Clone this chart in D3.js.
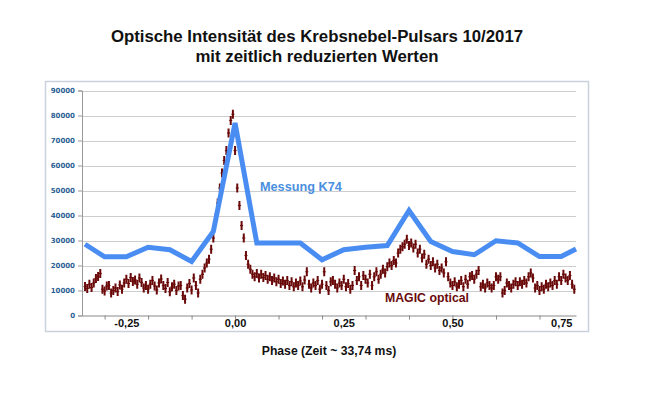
<!DOCTYPE html>
<html>
<head>
<meta charset="utf-8">
<script src="https://cdn.jsdelivr.net/npm/d3@7"></script>
<style>
  body { margin: 0; background: #fff; }
  svg { font-family: "Liberation Sans", Arial, sans-serif; }
</style>
</head>
<body>
<div id="chart"></div>
<script>
// chart titles
const titleLines = ["Optische Intensität des Krebsnebel-Pulsars 10/2017", "mit zeitlich reduzierten Werten"];
const xTitle = "Phase (Zeit ~ 33,74 ms)";

// axis ticks
const yTicks = [0, 10000, 20000, 30000, 40000, 50000, 60000, 70000, 80000, 90000];
const xMinorTicks = [-0.3, -0.2, -0.1, 0, 0.1, 0.2, 0.3, 0.4, 0.5, 0.6, 0.7];
const xLabelTicks = [-0.25, 0, 0.25, 0.5, 0.75];

// Messung K74 (blue line)
const k74Phase = [-0.345, -0.30, -0.25, -0.20, -0.15, -0.10, -0.05, 0.00, 0.05, 0.10, 0.15, 0.20, 0.25, 0.30, 0.35, 0.40, 0.45, 0.50, 0.55, 0.60, 0.65, 0.70, 0.75, 0.784];
const k74Value = [28500, 23500, 23500, 27300, 26300, 21600, 33600, 77000, 29000, 29000, 29000, 22300, 26300, 27300, 28000, 42000, 29600, 25600, 24300, 29900, 29000, 23600, 23600, 26600];

// MAGIC optical (dark red points with error bars), phase bins of 0.005 from -0.345
const magicPhaseStart = -0.345;
const magicPhaseStep = 0.005;
const magicError = 1800;
const magicValue = [
  11600, 10800, 12500, 11200, 13000, 14800, 15600, 16800, 10500, 9800,
  11800, 12000, 9000, 10000, 11000, 9600, 12200, 10500, 13000, 14500,
  12800, 15200, 13600, 14200, 12500, 15000, 13200, 11000, 12000, 10500,
  12500, 14000, 11800, 10200, 13000, 14600, 12000, 10800, 13200, 9500,
  11500, 12500, 10000, 11800, 12000, 8000, 6500, 11000, 12800, 10200,
  15000, 12000, 9000, 14500, 16500, 19000, 21000, 22500, 26500, 31000,
  39000, 45000, 51000, 57000, 62000, 66000, 73000, 78000, 80500, 66000,
  51000, 44000, 36000, 31000, 24000, 20500, 18500, 16500, 15500, 16800,
  15000, 16500, 15200, 16000, 14500, 15500, 14000, 15000, 13500, 14500,
  12800, 13800, 12500, 14000, 12000, 13500, 11500, 13000, 12000, 13800,
  11500, 14200, 17500, 12500, 11000, 13000, 12000, 14000, 10500, 12500,
  17500, 12000, 10000, 13500, 14000, 12500, 11000, 13000, 12000, 14500,
  11500, 12800, 10500, 12000, 18000, 14000, 15500, 12000, 16000, 14500,
  13000, 16500, 12000, 15500, 17500, 14500, 16500, 18500, 17000, 19500,
  21000, 20000, 22000, 21000, 25000, 26500, 27500, 28500, 30500, 28000,
  29000, 27000, 28500, 25000, 26500, 23000, 24500, 20500, 22500, 20000,
  21500, 19000, 20500, 18000, 19000, 17000, 21500, 15500, 13000, 12000,
  13500, 11500, 12500, 14000, 11500, 14500, 12500, 15500, 16000, 14500,
  16500, 18000, 11500, 12500, 11000, 13000, 12000, 11000, 12000, 15500,
  14500, 15500, 9000, 10000, 13000, 12000, 11000, 12500, 13500, 12000,
  13500, 12500, 14000, 13000, 15500, 17000, 15000, 11000, 12000, 10000,
  11500, 10500, 12500, 11500, 13000, 12000, 14000, 12500, 15500, 14000,
  16500, 15000, 14000, 16000, 12500, 10500
];

// series labels
const k74Label = "Messung K74";
const magicLabel = "MAGIC optical";

const width = 660;
const height = 396;

const svg = d3.select("#chart")
    .append("svg")
    .attr("width", width)
    .attr("height", height);

// plot area
const plot = { left: 82, right: 576, top: 90.5, bottom: 315.5 };

const x = d3.scaleLinear()
    .domain([-0.352, 0.784])
    .range([plot.left, plot.right]);

const y = d3.scaleLinear()
    .domain([0, 90000])
    .range([plot.bottom, plot.top]);

const de = d3.formatLocale({ decimal: ",", thousands: ".", grouping: [3], currency: ["", " €"], minus: "-" });

// frame around chart
svg.append("rect")
    .attr("x", 45.5)
    .attr("y", 81.5)
    .attr("width", 543)
    .attr("height", 250)
    .attr("fill", "#fff")
    .attr("stroke", "#c9d2dc")
    .attr("stroke-width", 1.5);

// title
svg.append("g")
    .selectAll("text")
    .data(titleLines)
    .enter()
    .append("text")
    .text(d => d)
    .attr("x", 317)
    .attr("y", (d, i) => 42 + i * 19.5)
    .attr("text-anchor", "middle")
    .style("font-size", "16.8px")
    .style("font-weight", "bold")
    .attr("fill", "#111");

// gridlines
svg.append("g")
    .selectAll("line")
    .data(yTicks.slice(1))
    .enter()
    .append("line")
    .attr("x1", plot.left)
    .attr("x2", plot.right)
    .attr("y1", d => Math.round(y(d)) + 0.5)
    .attr("y2", d => Math.round(y(d)) + 0.5)
    .attr("stroke", "#cdcdcd")
    .attr("stroke-width", 1);

// y axis
const yAxis = svg.append("g")
    .attr("transform", `translate(${plot.left},0)`)
    .call(d3.axisLeft(y).tickValues(yTicks).tickSize(4).tickFormat(d3.format("d")));
yAxis.select(".domain").attr("stroke", "#9a9a9a");
yAxis.selectAll(".tick line").attr("stroke", "#9a9a9a");
yAxis.selectAll("text")
    .attr("fill", "#2b5f94")
    .style("font-family", "'DejaVu Sans', Verdana, sans-serif")
    .style("font-size", "7px")
    .style("font-weight", "bold");

// x axis with minor ticks
const xAxis = svg.append("g")
    .attr("transform", `translate(0,${plot.bottom})`)
    .call(d3.axisBottom(x).tickValues(xMinorTicks).tickSize(4).tickFormat("").tickSizeOuter(0));
xAxis.select(".domain").attr("stroke", "#8a8a8a").attr("stroke-width", 1.2);
xAxis.selectAll(".tick line").attr("stroke", "#8a8a8a");

// x labels
const xLabels = svg.append("g")
    .attr("transform", `translate(0,${plot.bottom})`)
    .call(d3.axisBottom(x).tickValues(xLabelTicks).tickSize(0).tickPadding(4).tickFormat(de.format(".2f")));
xLabels.select(".domain").remove();
xLabels.selectAll("text")
    .attr("fill", "#111")
    .style("font-size", "11px")
    .style("font-weight", "bold");

// x title
svg.append("text")
    .text(xTitle)
    .attr("x", 329)
    .attr("y", 355)
    .attr("text-anchor", "middle")
    .style("font-size", "12.2px")
    .style("font-weight", "bold")
    .attr("fill", "#111");

// MAGIC optical points
const magic = magicValue.map((v, i) => ({ p: magicPhaseStart + i * magicPhaseStep, v: v }));
const magicColor = "#6a0909";

const pts = svg.append("g");
pts.selectAll("line.err")
    .data(magic)
    .enter()
    .append("line")
    .attr("class", "err")
    .attr("x1", d => x(d.p))
    .attr("x2", d => x(d.p))
    .attr("y1", d => y(d.v - magicError))
    .attr("y2", d => y(d.v + magicError))
    .attr("stroke", magicColor)
    .attr("stroke-width", 2);
pts.selectAll("line.mark")
    .data(magic)
    .enter()
    .append("line")
    .attr("class", "mark")
    .attr("x1", d => x(d.p) - 1.5)
    .attr("x2", d => x(d.p) + 1.5)
    .attr("y1", d => y(d.v))
    .attr("y2", d => y(d.v))
    .attr("stroke", magicColor)
    .attr("stroke-width", 1.2);

// K74 line
const k74 = k74Phase.map((p, i) => ({ p: p, v: k74Value[i] }));
svg.append("path")
    .datum(k74)
    .attr("d", d3.line().x(d => x(d.p)).y(d => y(d.v)))
    .attr("fill", "none")
    .attr("stroke", "#4a8df2")
    .attr("stroke-width", 5)
    .attr("stroke-linejoin", "miter");

// series labels
svg.append("text")
    .text(k74Label)
    .attr("x", 260)
    .attr("y", 191)
    .style("font-size", "12.7px")
    .style("font-weight", "bold")
    .attr("fill", "#4a8fe0");

svg.append("text")
    .text(magicLabel)
    .attr("x", 385)
    .attr("y", 302)
    .style("font-size", "12.3px")
    .style("font-weight", "bold")
    .attr("fill", "#6a0909");
</script>
</body>
</html>
